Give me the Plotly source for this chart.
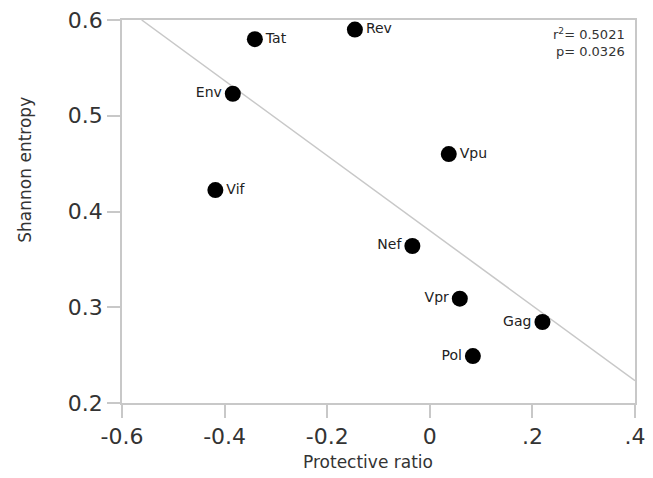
import numpy as np
import plotly.graph_objects as go

genes = ["Tat", "Rev", "Env", "Vif", "Vpu", "Nef", "Vpr", "Gag", "Pol"]
protective_ratio = [-0.341, -0.146, -0.384, -0.418, 0.037, -0.034, 0.0585, 0.2196, 0.084]
shannon_entropy = [0.580, 0.590, 0.523, 0.4224, 0.460, 0.364, 0.309, 0.2846, 0.249]
label_side = ["middle right", "middle right", "middle left", "middle right", "middle right",
              "middle left", "middle left", "middle left", "middle left"]

x_tick_vals = [-0.6, -0.4, -0.2, 0, 0.2, 0.4]
x_tick_text = ["-0.6", "-0.4", "-0.2", "0", ".2", ".4"]
y_tick_vals = [0.2, 0.3, 0.4, 0.5, 0.6]
y_tick_text = ["0.2", "0.3", "0.4", "0.5", "0.6"]
stats_text = "r<sup>2</sup>= 0.5021<br>p= 0.0326"

x_range = [-0.6, 0.4]
y_range = [0.2, 0.6]

# least-squares fit line drawn across the plotting box
slope, intercept = np.polyfit(protective_ratio, shannon_entropy, 1)
x_start = (y_range[1] - intercept) / slope
fit_x = [x_start, x_range[1]]
fit_y = [slope * v + intercept for v in fit_x]

FONT = "DejaVu Sans"
AXIS_GRAY = "#c8c8c8"

fig = go.Figure()
fig.add_trace(go.Scatter(
    x=fit_x, y=fit_y, mode="lines",
    line=dict(color=AXIS_GRAY, width=1.5),
    hoverinfo="skip", showlegend=False,
))
fig.add_trace(go.Scatter(
    x=protective_ratio, y=shannon_entropy, mode="markers+text",
    text=genes, textposition=label_side,
    textfont=dict(family=FONT, size=14, color="#222222"),
    marker=dict(color="black", size=16),
    cliponaxis=False, showlegend=False,
))

axis_common = dict(
    showline=True, linecolor=AXIS_GRAY, linewidth=1.5, mirror=True,
    ticks="outside", ticklen=13, tickwidth=1.5, tickcolor=AXIS_GRAY,
    showgrid=False, zeroline=False, ticklabeloverflow="allow",
    tickfont=dict(family=FONT, size=22, color="#333333"),
)

fig.update_xaxes(range=x_range, tickvals=x_tick_vals, ticktext=x_tick_text, **axis_common)
fig.update_yaxes(range=y_range, tickvals=y_tick_vals, ticktext=y_tick_text, **axis_common)

fig.add_annotation(
    text=stats_text, xref="paper", yref="paper", x=0.984, y=0.99,
    xanchor="right", yanchor="top", align="right", showarrow=False,
    font=dict(family=FONT, size=13, color="#333333"),
)
fig.add_annotation(
    text="Protective ratio", xref="paper", yref="paper", x=0.479, y=-0.154,
    xanchor="center", yanchor="middle", showarrow=False,
    font=dict(family=FONT, size=17, color="#333333"),
)
fig.add_annotation(
    text="Shannon entropy", xref="paper", yref="paper", x=-0.188, y=0.608,
    xanchor="center", yanchor="middle", textangle=-90, showarrow=False,
    font=dict(family=FONT, size=17, color="#333333"),
)

fig.update_layout(
    width=645, height=470,
    margin=dict(l=114, r=18, t=12, b=75, autoexpand=False),
    plot_bgcolor="white", paper_bgcolor="white",
)

fig.write_html("out.html")
